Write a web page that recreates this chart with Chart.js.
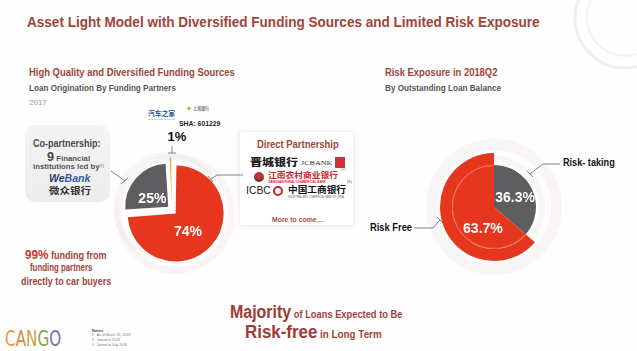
<!DOCTYPE html>
<html>
<head>
<meta charset="utf-8">
<script src="https://cdn.jsdelivr.net/npm/chart.js@4"></script>
<style>
  html, body { margin: 0; padding: 0; background: #fff; }
  #slide { position: relative; width: 637px; height: 351px; overflow: hidden; background: #fefefe;
    font-family: "Liberation Sans", Arial, sans-serif; }
  .t { position: absolute; white-space: nowrap; line-height: 1; font-weight: bold; transform-origin: 0 0; }
  .cjk { font-family: "Noto Sans CJK SC", sans-serif; }
  .box { position: absolute; }
  .pie { position: absolute; width: 140px; height: 140px; }
  sup { font-size: 45%; vertical-align: 60%; font-weight: normal; }
  svg { position: absolute; left: 0; top: 0; }
</style>
</head>
<body>
<div id="slide">
  <svg width="637" height="351">
    <!-- faint decoration, top right -->
    <circle cx="625" cy="18" r="50" fill="none" stroke="#efefef" stroke-width="3"/>
    <circle cx="625" cy="18" r="38" fill="none" stroke="#f3f3f3" stroke-width="2"/>
  </svg>

  <div class="t" data-x="27" data-y="21" data-w="513" style="font-size:15px;color:#a0443a">Asset Light Model with Diversified Funding Sources and Limited Risk Exposure</div>

  <!-- left block -->
  <div class="t" data-x="29" data-y="72" data-w="206" style="font-size:11px;color:#a0443a">High Quality and Diversified Funding Sources</div>
  <div class="t" data-x="29" data-y="88" data-w="147" style="font-size:9px;color:#555">Loan Origination By Funding Partners</div>
  <div class="t" data-x="29" data-y="103" data-w="18" style="font-size:8px;color:#999;font-weight:normal">2017</div>

  <div class="t cjk" data-x="148" data-y="113" data-w="27" style="font-size:7px;color:#1d4f9c">汽车之家</div>
  <div class="t" data-x="148" data-y="120" data-w="27" style="font-size:2.5px;color:#7a8aa0;font-weight:normal">autohome.com.cn</div>
  <div class="t" data-x="186" data-y="108" data-w="6" style="font-size:7px;color:#d3a53a">✦</div>
  <div class="t cjk" data-x="193" data-y="107" data-w="16" style="font-size:5px;color:#777">上海银行</div>
  <div class="t" data-x="179" data-y="124" data-w="41" style="font-size:8px;color:#222">SHA: 601229</div>
  <div class="t" id="lbl-small" data-cx="177" data-y="136" style="font-size:13px;color:#111"></div>

  <div class="box" style="left:25px;top:125px;width:85px;height:77px;border-radius:10px;background:linear-gradient(#f4f4f4,#ececec)"></div>
  <div class="t" data-cx="67" data-y="143" data-w="68" style="font-size:11px;color:#4a4a4a">Co-partnership:</div>
  <div class="t" data-cx="68" data-y="156" data-w="43" style="font-size:8px;color:#555"><span style="font-size:13px;color:#444">9</span> Financial</div>
  <div class="t" data-x="33" data-y="167" data-w="71" style="font-size:8px;color:#555">institutions led by<sup>(1)</sup></div>
  <div class="t" data-x="49" data-y="179" data-w="41" style="font-size:10px;font-style:italic;color:#2b5fae"><span style="color:#1e3f78">We</span>Bank</div>
  <div class="t cjk" data-x="49" data-y="191" data-w="42" style="font-size:9.5px;color:#333">微众银行</div>

  <div class="box" style="left:240px;top:132px;width:113px;height:93px;background:#fff;box-shadow:0 0 5px rgba(150,120,120,0.22)"></div>
  <div class="t" data-x="257" data-y="145" data-w="82" style="font-size:10px;color:#a0443a">Direct Partnership</div>
  <div class="t cjk" data-x="250" data-y="162" data-w="48" style="font-size:10px;color:#222;font-weight:900">晋城银行</div>
  <div class="t" data-x="301" data-y="163" data-w="31" style="font-size:6px;color:#333;font-family:'Liberation Serif',serif;font-weight:normal">JCBANK</div>
  <div class="box" style="left:335px;top:157px;width:10px;height:11px;background:#d0313a"></div>
  <div class="box" style="left:254px;top:172px;width:10px;height:10px;border-radius:50%;background:#b7343b;border-bottom:2px solid #4a3a2a;box-sizing:border-box"></div>
  <div class="t cjk" data-x="268" data-y="175" data-w="70" style="font-size:8px;color:#c0282d">江南农村商业银行</div>
  <div class="t" data-x="268" data-y="182" data-w="58" style="font-size:3px;color:#c0282d">JIANGNAN RURAL COMMERCIAL BANK</div>
  <div class="t" data-x="341" data-y="169" style="font-size:4px;color:#555;font-weight:normal">(2)</div>
  <div class="t" data-x="246" data-y="191" data-w="25" style="font-size:10px;color:#222;font-weight:normal">ICBC</div>
  <div class="box" style="left:273px;top:186px;width:10px;height:10px;border-radius:50%;border:2px solid #c4232b;box-sizing:border-box"></div>
  <div class="t cjk" data-x="288" data-y="189" data-w="58" style="font-size:9px;color:#111">中国工商银行</div>
  <div class="t" data-x="288" data-y="197" data-w="56" style="font-size:3px;color:#666;font-weight:normal">INDUSTRIAL AND COMMERCIAL BANK OF CHINA</div>
  <div class="t" data-x="347" data-y="182" style="font-size:4px;color:#555;font-weight:normal">(3)</div>
  <div class="t" data-x="272" data-y="219" data-w="52" style="font-size:7px;color:#b0503e">More to come…</div>

  <div class="t" data-x="25" data-y="254" data-w="81" style="font-size:10px;color:#a0443a"><span style="font-size:13px;color:#c6382a">99%</span> funding from</div>
  <div class="t" data-x="30" data-y="268" data-w="62" style="font-size:10px;color:#a0443a">funding partners</div>
  <div class="t" data-x="21" data-y="282" data-w="90" style="font-size:10px;color:#a0443a">directly to car buyers</div>

  <!-- right block -->
  <div class="t" data-x="385" data-y="72" data-w="112" style="font-size:11px;color:#a0443a">Risk Exposure in 2018Q2</div>
  <div class="t" data-x="385" data-y="88" data-w="116" style="font-size:9px;color:#555">By Outstanding Loan Balance</div>
  <div class="t" data-x="563" data-y="163" data-w="52" style="font-size:10px;color:#111">Risk- taking</div>
  <div class="t" data-x="370" data-y="228" data-w="42" style="font-size:10px;color:#111">Risk Free</div>

  <!-- bottom -->
  <div class="t" data-cx="316" data-y="312" data-w="172" style="font-size:10.5px;color:#a0443a"><span style="font-size:18px;color:#a03a32">Majority</span> of Loans Expected to Be</div>
  <div class="t" data-cx="313" data-y="332" data-w="137" style="font-size:10.5px;color:#a0443a"><span style="font-size:18px;color:#a03a32">Risk-free</span> in Long Term</div>

  <div class="t" data-x="5" data-y="339" data-w="56" style="font-size:22px;font-weight:normal;font-family:'DejaVu Sans',sans-serif"><span style="color:#e59a3c">C</span><span style="color:#d9873a">A</span><span style="color:#c9a23a">N</span><span style="color:#8aa449">G</span><span style="color:#8a6aa8">O</span></div>
  <div class="t" data-x="92" data-y="331" style="font-size:4px;color:#444">Notes</div>
  <div class="t" data-x="92" data-y="336" style="font-size:3.5px;color:#777;font-weight:normal">1&nbsp;&nbsp;&nbsp;As of March 31, 2018</div>
  <div class="t" data-x="92" data-y="341" style="font-size:3.5px;color:#777;font-weight:normal">2&nbsp;&nbsp;&nbsp;Joined in 2018</div>
  <div class="t" data-x="92" data-y="346" style="font-size:3.5px;color:#777;font-weight:normal">3&nbsp;&nbsp;&nbsp;Joined in July 2018</div>

  <div class="pie" style="left:102px;top:140px"><canvas id="leftPie"></canvas></div>
  <div class="pie" style="left:424px;top:137px"><canvas id="rightPie"></canvas></div>

  <svg width="637" height="351" style="pointer-events:none">
    <g fill="none" stroke="#666" stroke-width="0.8">
      <path d="M111 171 L125 181"/><path d="M121 184 L128 178"/>
      <path d="M172 146 L172 153"/><path d="M168 153 L176 153"/>
      <path d="M211 179 L217 175 L243 175"/><path d="M208 176 L213 182"/>
      <path d="M530 174 L543 164 L560 164"/><path d="M527 171 L533 177"/>
      <path d="M414 228 L433 228 L440 220"/><path d="M437 217 L443 223"/>
    </g>
  </svg>
</div>

<script>
// funding partners, 2017 loan origination
const fundLabels = ['Direct Partnership', 'Co-partnership', 'Others'];
const fundValues = [74, 25, 1];
// risk exposure, 2018Q2 outstanding balance
const riskLabels = ['Risk- taking', 'Risk Free'];
const riskValues = [36.3, 63.7];

const RED = '#e6361d';
const GRAY = '#5e5e60';
const GOLD = '#d8aa45';

// lay out the slide text
document.querySelectorAll('.t').forEach(el => {
  if (el.id === 'lbl-small') el.textContent = fundValues[2] + '%';
  const w0 = el.offsetWidth, h = el.offsetHeight;
  const w = el.dataset.w ? +el.dataset.w : w0;
  const x = el.dataset.cx ? +el.dataset.cx - w / 2 : +el.dataset.x;
  el.style.left = x + 'px';
  el.style.top = (+el.dataset.y - h / 2) + 'px';
  el.style.transform = 'scaleX(' + (w / w0) + ')';
});

// faint rings drawn behind the pie
const halo = {
  id: 'halo',
  beforeDatasetsDraw(chart, args, opts) {
    const a = chart.getDatasetMeta(0).data[0];
    const ctx = chart.ctx;
    ctx.save();
    (opts.rings || []).forEach(r => {
      const cx = a.x + (r.dx || 0), cy = a.y + (r.dy || 0);
      ctx.beginPath();
      ctx.arc(cx, cy, r.outer, 0, Math.PI * 2);
      ctx.arc(cx, cy, r.inner, 0, Math.PI * 2, true);
      ctx.fillStyle = r.color;
      ctx.fill();
    });
    ctx.restore();
  }
};

const sliceLabels = {
  id: 'sliceLabels',
  afterDatasetsDraw(chart, args, opts) {
    const ctx = chart.ctx;
    ctx.save();
    ctx.font = opts.font;
    ctx.fillStyle = opts.color;
    ctx.textAlign = 'center';
    ctx.textBaseline = 'middle';
    opts.items.forEach(it => {
      const arc = chart.getDatasetMeta(it.ds).data[it.i];
      const p = arc.getCenterPoint();
      const v = chart.data.datasets[it.ds].data[it.i];
      ctx.fillText(v + '%', p.x + (it.dx || 0), p.y + (it.dy || 0));
    });
    ctx.restore();
  }
};

// thin light seam on the red slice where the inner ring ends
const seam = {
  id: 'seam',
  afterDatasetsDraw(chart, args, opts) {
    if (!opts.on) return;
    const arc = chart.getDatasetMeta(1).data[1];
    const ctx = chart.ctx;
    ctx.save();
    ctx.beginPath();
    ctx.arc(arc.x, arc.y, arc.outerRadius - 0.5, arc.startAngle, arc.endAngle);
    ctx.strokeStyle = 'rgba(255,170,150,0.6)';
    ctx.lineWidth = 0.8;
    ctx.stroke();
    ctx.restore();
  }
};

const base = {
  responsive: true,
  maintainAspectRatio: false,
  animation: false,
  events: [],
  layout: { padding: 0 },
};

new Chart(document.getElementById('leftPie'), {
  type: 'pie',
  data: {
    labels: fundLabels,
    datasets: [{
      data: fundValues,
      backgroundColor: [RED, GRAY, GOLD],
      borderWidth: 0,
      offset: 20
    }]
  },
  options: Object.assign({}, base, {
    radius: 43,
    plugins: {
      legend: { display: false },
      tooltip: { enabled: false },
      halo: { rings: [
        { inner: 53, outer: 60, dx: 3, dy: 4, color: 'rgba(228,196,192,0.16)' },
        { inner: 50, outer: 55, dx: -4, dy: -3, color: 'rgba(200,200,200,0.12)' }
      ] },
      seam: { on: false },
      sliceLabels: {
        font: 'bold 14px "Liberation Sans", Arial, sans-serif',
        color: '#fff',
        items: [{ ds: 0, i: 0, dx: -7, dy: 1 }, { ds: 0, i: 1, dx: 4, dy: 10 }]
      }
    }
  }),
  plugins: [halo, sliceLabels, seam]
});

new Chart(document.getElementById('rightPie'), {
  type: 'pie',
  data: {
    labels: riskLabels,
    datasets: [
      { data: riskValues, backgroundColor: ['rgba(0,0,0,0)', RED], borderWidth: 0, weight: 12 },
      { data: riskValues, backgroundColor: [GRAY, RED], borderWidth: 0, weight: 42 }
    ]
  },
  options: Object.assign({}, base, {
    radius: 54,
    plugins: {
      legend: { display: false },
      tooltip: { enabled: false },
      halo: { rings: [
        { inner: 57, outer: 68, color: 'rgba(232,212,210,0.22)' },
        { inner: 45, outer: 51, color: 'rgba(200,200,200,0.15)' }
      ] },
      seam: { on: true },
      sliceLabels: {
        font: 'bold 14px "Liberation Sans", Arial, sans-serif',
        color: '#fff',
        items: [{ ds: 1, i: 0, dx: 2, dy: 0 }, { ds: 1, i: 1, dx: 8, dy: 13 }]
      }
    }
  }),
  plugins: [halo, sliceLabels, seam]
});
</script>
</body>
</html>
